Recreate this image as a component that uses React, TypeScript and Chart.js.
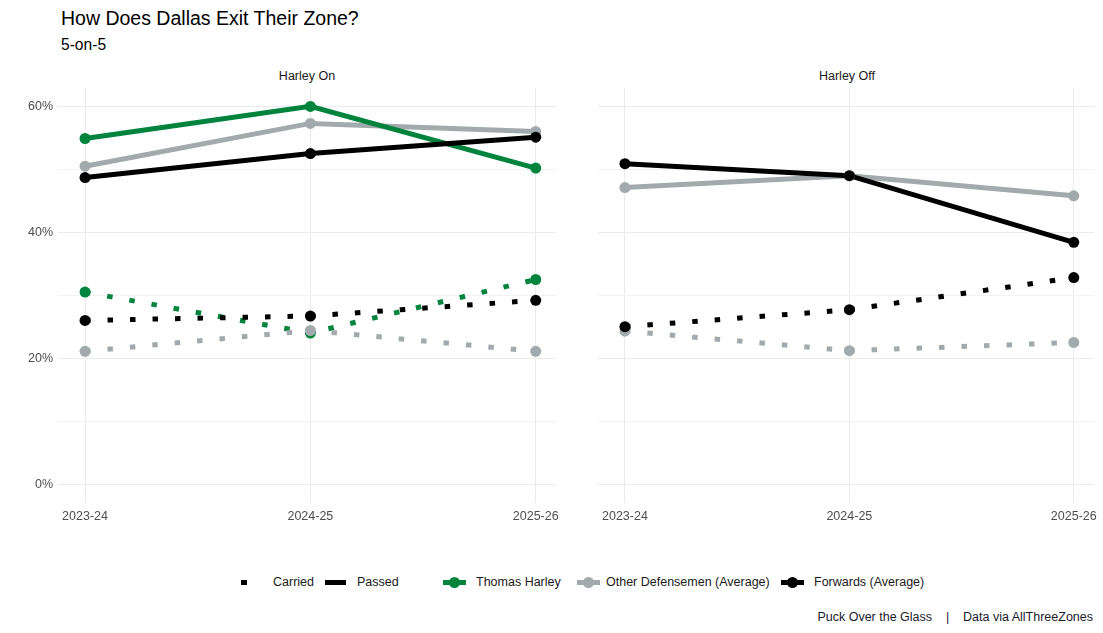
import React, { useEffect, useRef } from 'react';
import { Chart, registerables } from 'chart.js';

Chart.register(...registerables);

// ---------- data ----------
const seasons = ['2023-24', '2024-25', '2025-26'];
const yTicks = [0, 10, 20, 30, 40, 50, 60];

// Harley On panel
const onHarleyPassed = [54.9, 60.0, 50.2];
const onOtherDPassed = [50.5, 57.3, 56.0];
const onForwardsPassed = [48.7, 52.5, 55.1];
const onHarleyCarried = [30.5, 24.0, 32.5];
const onOtherDCarried = [21.1, 24.4, 21.1];
const onForwardsCarried = [26.0, 26.7, 29.2];

// Harley Off panel
const offOtherDPassed = [47.1, 49.0, 45.8];
const offForwardsPassed = [50.9, 49.0, 38.4];
const offOtherDCarried = [24.3, 21.2, 22.5];
const offForwardsCarried = [25.0, 27.7, 32.8];

const GREEN = '#00843D';
const GRAY = '#A2AAAD';
const BLACK = '#000000';
const FONT = '"Liberation Sans", Arial, Helvetica, sans-serif';
const AXIS_TEXT = '#4d4d4d';

type Series = { values: number[]; color: string; dotted: boolean };

function buildDatasets(series: Series[]) {
  const pts = series.map((s) => ({
    data: s.values.map((v, i) => ({ x: i, y: v })),
    showLine: false,
    pointRadius: 5.5,
    pointHoverRadius: 5.5,
    pointBackgroundColor: s.color,
    pointBorderColor: s.color,
    pointBorderWidth: 0,
    borderColor: s.color,
    backgroundColor: s.color,
  }));
  const lines = series.map((s) => ({
    data: s.values.map((v, i) => ({ x: i, y: v })),
    borderColor: s.color,
    backgroundColor: s.color,
    borderWidth: 5,
    borderDash: s.dotted ? [5.5, 17] : [],
    borderCapStyle: 'butt',
    borderJoinStyle: 'miter',
    pointRadius: 0,
    pointHoverRadius: 0,
    tension: 0,
    fill: false,
  }));
  return [...pts, ...lines];
}

function makeOptions(yWidth: number, padRight: number, yLabelColor: string): any {
  return {
    animation: false,
    responsive: false,
    maintainAspectRatio: false,
    events: [],
    layout: { padding: { top: 0, right: padRight, left: 0, bottom: 0 } },
    plugins: { legend: { display: false }, tooltip: { enabled: false } },
    scales: {
      x: {
        type: 'linear',
        min: -0.12,
        max: 2.09,
        afterBuildTicks: (s: any) => {
          s.ticks = seasons.map((_, i) => ({ value: i }));
        },
        afterFit: (s: any) => {
          s.height = 27;
        },
        ticks: {
          callback: (v: any) => seasons[v] ?? '',
          color: AXIS_TEXT,
          font: { family: FONT, size: 12.5 },
          padding: 6,
          maxRotation: 0,
          autoSkip: false,
        },
        grid: { color: '#ebebeb', lineWidth: 1, drawTicks: false },
        border: { display: false },
      },
      y: {
        type: 'linear',
        min: -3,
        max: 63,
        afterBuildTicks: (s: any) => {
          s.ticks = yTicks.map((v) => ({ value: v }));
        },
        afterFit: (s: any) => {
          s.width = yWidth;
        },
        ticks: {
          callback: (v: any) => (v % 20 === 0 ? `${v}%` : ''),
          color: yLabelColor,
          font: { family: FONT, size: 12.5 },
          padding: 5,
          autoSkip: false,
        },
        grid: {
          color: (ctx: any) => (ctx.tick && ctx.tick.value % 20 === 0 ? '#ebebeb' : '#f2f2f2'),
          lineWidth: 1,
          drawTicks: false,
        },
        border: { display: false },
      },
    },
  };
}

const onSeries: Series[] = [
  { values: onForwardsCarried, color: BLACK, dotted: true },
  { values: onForwardsPassed, color: BLACK, dotted: false },
  { values: onOtherDCarried, color: GRAY, dotted: true },
  { values: onHarleyPassed, color: GREEN, dotted: false },
  { values: onHarleyCarried, color: GREEN, dotted: true },
  { values: onOtherDPassed, color: GRAY, dotted: false },
];

const offSeries: Series[] = [
  { values: offForwardsCarried, color: BLACK, dotted: true },
  { values: offForwardsPassed, color: BLACK, dotted: false },
  { values: offOtherDCarried, color: GRAY, dotted: true },
  { values: offOtherDPassed, color: GRAY, dotted: false },
];

const abs = (style: React.CSSProperties): React.CSSProperties => ({ position: 'absolute', ...style });

function Text({ left, top, size, children, color = '#1a1a1a', width, align }: any) {
  return (
    <div
      style={abs({
        left,
        top,
        width,
        fontFamily: FONT,
        fontSize: size,
        lineHeight: `${size}px`,
        color,
        textAlign: align,
        whiteSpace: 'pre',
      })}
    >
      {children}
    </div>
  );
}

function LineKey({ left, color }: { left: number; color: string }) {
  return (
    <>
      <div style={abs({ left, top: 579.5, width: 23, height: 5, background: color })} />
      <div
        style={abs({ left: left + 6, top: 576.5, width: 11, height: 11, borderRadius: '50%', background: color })}
      />
    </>
  );
}

export default function App() {
  const leftRef = useRef<HTMLCanvasElement>(null);
  const rightRef = useRef<HTMLCanvasElement>(null);

  useEffect(() => {
    Chart.defaults.font.family = FONT;
    const c1 = new Chart(leftRef.current as HTMLCanvasElement, {
      type: 'line',
      data: { datasets: buildDatasets(onSeries) as any },
      options: makeOptions(58, 20, AXIS_TEXT),
    });
    const c2 = new Chart(rightRef.current as HTMLCanvasElement, {
      type: 'line',
      data: { datasets: buildDatasets(offSeries) as any },
      options: makeOptions(38, 7, 'rgba(0,0,0,0)'),
    });
    return () => {
      c1.destroy();
      c2.destroy();
    };
  }, []);

  return (
    <div style={abs({ left: 0, top: 0, width: 1103, height: 633, background: '#fff', overflow: 'hidden' })}>
      <Text left={61} top={8.5} size={19.5} color="#000">How Does Dallas Exit Their Zone?</Text>
      <Text left={61} top={37} size={15.6} color="#000">5-on-5</Text>

      <Text left={58} top={69.5} size={12.5} width={498} align="center">Harley On</Text>
      <Text left={598} top={69.5} size={12.5} width={498} align="center">Harley Off</Text>

      <canvas ref={leftRef} width={576} height={455} style={abs({ left: 0, top: 75, width: 576, height: 455 })} />
      <canvas ref={rightRef} width={543} height={455} style={abs({ left: 560, top: 75, width: 543, height: 455 })} />

      {/* legend */}
      <div style={abs({ left: 241, top: 579.5, width: 5.5, height: 5.5, background: BLACK })} />
      <Text left={273} top={576} size={12.5}>Carried</Text>
      <div style={abs({ left: 325, top: 579.5, width: 21, height: 5, background: BLACK })} />
      <Text left={357} top={576} size={12.5}>Passed</Text>
      <LineKey left={443} color={GREEN} />
      <Text left={476} top={576} size={12.5}>Thomas Harley</Text>
      <LineKey left={577} color={GRAY} />
      <Text left={606} top={576} size={12.5}>Other Defensemen (Average)</Text>
      <LineKey left={781} color={BLACK} />
      <Text left={814} top={576} size={12.5}>Forwards (Average)</Text>

      <Text left={693} top={611} size={12.5} width={400} align="right" color="#1a1a2e">
        {'Puck Over the Glass    |    Data via AllThreeZones'}
      </Text>
    </div>
  );
}
